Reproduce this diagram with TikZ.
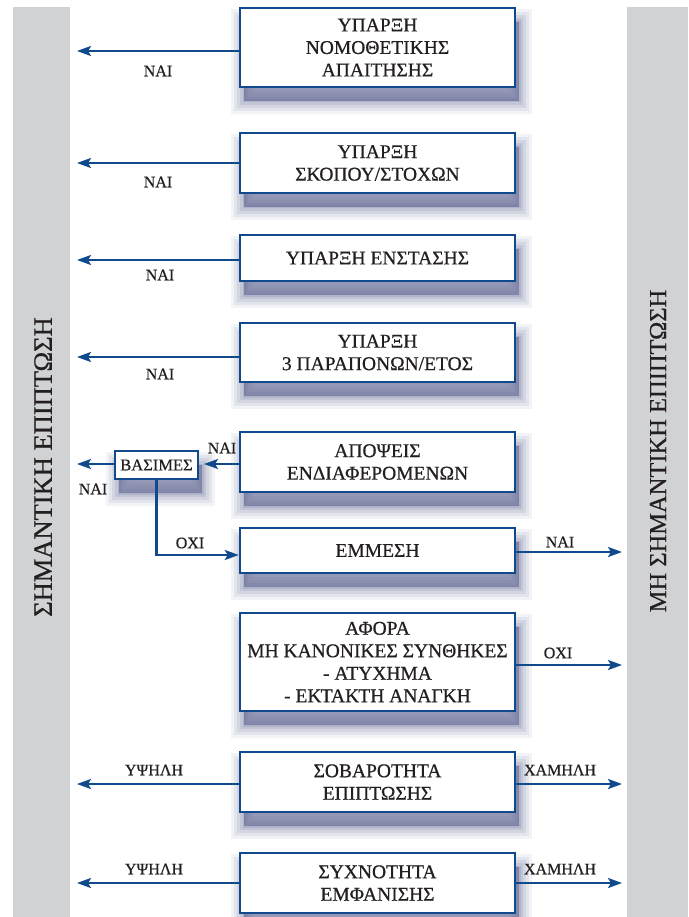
\documentclass[tikz,border=0pt]{standalone}
\usepackage{fontspec}
\setmainfont{Liberation Serif}[FakeBold=0.6]
\usetikzlibrary{arrows.meta}
\definecolor{bl}{RGB}{16,74,140}
\definecolor{barc}{RGB}{209,210,212}
\definecolor{shc}{RGB}{100,106,150}
\definecolor{txt}{RGB}{35,31,32}
\begin{document}
\begin{tikzpicture}[x=1pt,y=-1pt,
 shadowed/.style={
   preaction={fill=shc, fill opacity=0.65, draw=shc, draw opacity=0.08, line width=26pt, transform canvas={shift={(4pt,-14pt)}}},
   preaction={draw=shc, draw opacity=0.10, line width=20pt, transform canvas={shift={(4pt,-14pt)}}},
   preaction={draw=shc, draw opacity=0.12, line width=14pt, transform canvas={shift={(4pt,-14pt)}}},
   preaction={draw=shc, draw opacity=0.15, line width=8pt, transform canvas={shift={(4pt,-14pt)}}},
   preaction={draw=shc, draw opacity=0.18, line width=3pt, transform canvas={shift={(4pt,-14pt)}}}},
 box/.style={shadowed, draw=bl, line width=2.5pt, fill=white, minimum width=275pt, inner sep=2pt, align=center, font=\fontsize{19.5}{22.5}\selectfont, text=txt},
 smallbox/.style={shadowed, draw=bl, line width=2pt, fill=white, minimum width=83pt, minimum height=28pt, inner sep=1pt, font=\fontsize{16.5}{18}\selectfont, text=txt},
 lbl/.style={font=\fontsize{16}{18}\selectfont, text=txt, inner sep=0pt},
 arr/.style={draw=bl, line width=2.5pt, -{Stealth[length=14pt,width=10pt,inset=3pt]}},
 sidetxt/.style={rotate=90, text=txt, inner sep=0pt}
]
\useasboundingbox (0,0) rectangle (688,917);
\fill[white] (0,0) rectangle (688,917);
\fill[barc] (13,7) rectangle (70,917);
\fill[barc] (627,7) rectangle (688,917);
\node[sidetxt, font=\fontsize{26.5}{28}\selectfont] (lt) at (43,467) {ΣΗΜΑΝΤΙΚΗ ΕΠΙΠΤΩΣΗ};
\node[sidetxt, font=\fontsize{24.5}{26}\selectfont] (rt) at (658,451) {ΜΗ ΣΗΜΑΝΤΙΚΗ ΕΠΙΠΤΩΣΗ};

% boxes
\node[box, minimum height=79pt] (b1) at (377.5,47.5) {ΥΠΑΡΞΗ\\ΝΟΜΟΘΕΤΙΚΗΣ\\ΑΠΑΙΤΗΣΗΣ};
\node[box, minimum height=60pt] (b2) at (377.5,163) {ΥΠΑΡΞΗ\\ΣΚΟΠΟΥ/ΣΤΟΧΩΝ};
\node[box, minimum height=46pt] (b3) at (377.5,258) {ΥΠΑΡΞΗ ΕΝΣΤΑΣΗΣ};
\node[box, minimum height=59pt] (b4) at (377.5,352.5) {ΥΠΑΡΞΗ\\3 ΠΑΡΑΠΟΝΩΝ/ΕΤΟΣ};
\node[box, minimum height=60pt] (b5) at (377.5,462) {ΑΠΟΨΕΙΣ\\ΕΝΔΙΑΦΕΡΟΜΕΝΩΝ};
\node[box, minimum height=45pt] (b6) at (377.5,550.5) {ΕΜΜΕΣΗ};
\node[box, minimum height=98pt] (b7) at (377.5,662) {ΑΦΟΡΑ\\ΜΗ ΚΑΝΟΝΙΚΕΣ ΣΥΝΘΗΚΕΣ\\- ΑΤΥΧΗΜΑ\\- ΕΚΤΑΚΤΗ ΑΝΑΓΚΗ};
\node[box, minimum height=60pt] (b8) at (377.5,782) {ΣΟΒΑΡΟΤΗΤΑ\\ΕΠΙΠΤΩΣΗΣ};
\node[box, minimum height=60pt] (b9) at (377.5,883) {ΣΥΧΝΟΤΗΤΑ\\ΕΜΦΑΝΙΣΗΣ};
\node[smallbox] (bas) at (156.5,465) {ΒΑΣΙΜΕΣ};

% arrow ends
\coordinate (t1) at (77,51);
\coordinate (t2) at (77,163);
\coordinate (t3) at (77,260);
\coordinate (t4) at (77,357);
\coordinate (t5) at (77,464);
\coordinate (t6) at (622,552);
\coordinate (t7) at (622,665);
\coordinate (t8l) at (77,784);
\coordinate (t8r) at (622,784);
\coordinate (t9l) at (77,883);
\coordinate (t9r) at (622,883);

\draw[arr] (b1.west |- t1) -- (t1);
\draw[arr] (b2.west |- t2) -- (t2);
\draw[arr] (b3.west |- t3) -- (t3);
\draw[arr] (b4.west |- t4) -- (t4);
\draw[arr, shorten >=5pt] (b5.west |- t5) -- (bas.east |- t5);
\draw[arr] (bas.west |- t5) -- (t5);
\draw[arr] (bas.south) |- ([yshift=-4.5pt]b6.west);
\draw[arr] (b6.east |- t6) -- (t6);
\draw[arr] (b7.east |- t7) -- (t7);
\draw[arr] (b8.west |- t8l) -- (t8l);
\draw[arr] (b8.east |- t8r) -- (t8r);
\draw[arr] (b9.west |- t9l) -- (t9l);
\draw[arr] (b9.east |- t9r) -- (t9r);

% labels
\node[lbl] (l1) at (158,71) {ΝΑΙ};
\node[lbl] (l2) at (158,182) {ΝΑΙ};
\node[lbl] (l3) at (160,275) {ΝΑΙ};
\node[lbl] (l4) at (160,374) {ΝΑΙ};
\node[lbl] (l5a) at (222,448) {ΝΑΙ};
\node[lbl] (l5b) at (93,489) {ΝΑΙ};
\node[lbl] (l5c) at (190,543) {ΟΧΙ};
\node[lbl] (l6) at (560,542) {ΝΑΙ};
\node[lbl] (l7) at (558,653) {ΟΧΙ};
\node[lbl] (l8l) at (154,770) {ΥΨΗΛΗ};
\node[lbl] (l8r) at (560,770) {ΧΑΜΗΛΗ};
\node[lbl] (l9l) at (154,869) {ΥΨΗΛΗ};
\node[lbl] (l9r) at (560,869) {ΧΑΜΗΛΗ};
\end{tikzpicture}
\end{document}
